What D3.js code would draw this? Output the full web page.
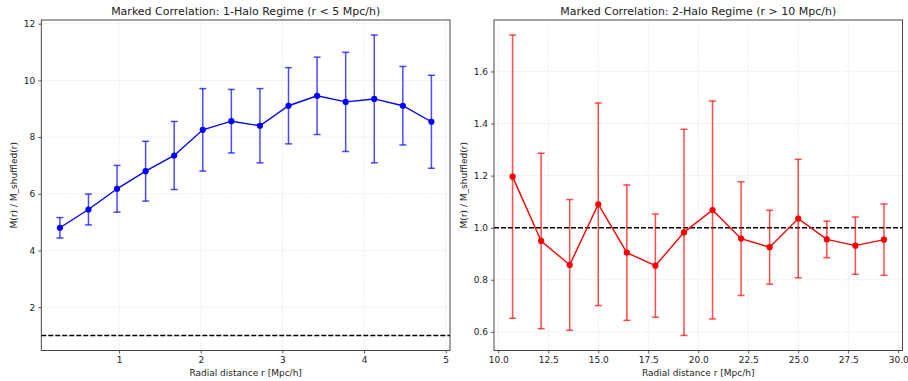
<!doctype html>
<html>
<head>
  <meta charset="utf-8">
  <title>Marked Correlation</title>
  <style>
  body { margin: 0; background: #fff; }
  svg { display: block; font-family: "DejaVu Sans", sans-serif; }
  .grid line { stroke: #d9d9d9; stroke-dasharray: 1,1.5; stroke-width: 0.8; }
  .tick text { fill: #222; }
  </style>
</head>
<body>
  <div id="vis"></div>

  <script src="https://d3js.org/d3.v7.min.js"></script>
  <script>
  var width = 908;
  var height = 381;

  // 1-halo regime (r < 5 Mpc/h)
  var r1 = [0.275, 0.625, 0.975, 1.325, 1.675, 2.025, 2.375, 2.725, 3.075, 3.425, 3.775, 4.125, 4.475, 4.825];
  var m1 = [4.80, 5.445, 6.175, 6.795, 7.35, 8.255, 8.56, 8.40, 9.105, 9.455, 9.24, 9.345, 9.105, 8.54];
  var e1 = [0.36, 0.545, 0.825, 1.055, 1.20, 1.455, 1.12, 1.31, 1.345, 1.365, 1.75, 2.255, 1.385, 1.64];
  var xt1 = [1, 2, 3, 4, 5];
  var yt1 = [2, 4, 6, 8, 10, 12];

  // 2-halo regime (r > 10 Mpc/h)
  var r2 = [10.714, 12.143, 13.571, 15.0, 16.429, 17.857, 19.286, 20.714, 22.143, 23.571, 25.0, 26.429, 27.857, 29.286];
  var m2 = [1.196, 0.949, 0.857, 1.090, 0.904, 0.854, 0.982, 1.068, 0.958, 0.925, 1.035, 0.955, 0.931, 0.954];
  var e2 = [0.544, 0.337, 0.251, 0.389, 0.26, 0.198, 0.396, 0.4185, 0.2185, 0.142, 0.2275, 0.07, 0.11, 0.137];
  var xt2 = [10, 12.5, 15, 17.5, 20, 22.5, 25, 27.5, 30];
  var yt2 = [0.6, 0.8, 1.0, 1.2, 1.4, 1.6];

  var refLine = 1.0;

  var svg = d3.select('#vis')
    .append('svg')
    .attr('width', width)
    .attr('height', height);

  function padded(lo, hi){
    var m = (hi - lo) * 0.05;
    return [lo - m, hi + m];
  }

  function drawPanel(opts){
    var x = d3.scaleLinear()
      .domain(padded(d3.min(opts.r), d3.max(opts.r)))
      .range([opts.left, opts.right]);
    var lo = d3.min(opts.m, function(d, i){ return d - opts.e[i]; });
    var hi = d3.max(opts.m, function(d, i){ return d + opts.e[i]; });
    var y = d3.scaleLinear()
      .domain(padded(Math.min(lo, refLine), Math.max(hi, refLine)))
      .range([opts.bottom, opts.top]);

    var g = svg.append('g');

    // grid
    var grid = g.append('g').attr('class', 'grid');
    grid.selectAll('.gx').data(opts.xticks).enter().append('line')
      .attr('x1', function(d){ return x(d); }).attr('x2', function(d){ return x(d); })
      .attr('y1', opts.top).attr('y2', opts.bottom);
    grid.selectAll('.gy').data(opts.yticks).enter().append('line')
      .attr('x1', opts.left).attr('x2', opts.right)
      .attr('y1', function(d){ return y(d); }).attr('y2', function(d){ return y(d); });

    // reference line
    g.append('line')
      .attr('x1', opts.left).attr('x2', opts.right)
      .attr('y1', y(refLine)).attr('y2', y(refLine))
      .attr('stroke', '#000')
      .attr('stroke-width', 1.4)
      .attr('stroke-dasharray', '5,2');

    // error bars
    var data = opts.r.map(function(d, i){ return { r: d, m: opts.m[i], e: opts.e[i] }; });
    var eb = g.append('g')
      .attr('stroke', opts.color)
      .attr('stroke-opacity', 0.7)
      .attr('stroke-width', 1.5);
    eb.selectAll('.bar').data(data).enter().append('line')
      .attr('x1', function(d){ return x(d.r); }).attr('x2', function(d){ return x(d.r); })
      .attr('y1', function(d){ return y(d.m - d.e); }).attr('y2', function(d){ return y(d.m + d.e); });
    [-1, 1].forEach(function(s){
      eb.selectAll('.cap' + s).data(data).enter().append('line')
        .attr('x1', function(d){ return x(d.r) - 3.5; }).attr('x2', function(d){ return x(d.r) + 3.5; })
        .attr('y1', function(d){ return y(d.m + s * d.e); }).attr('y2', function(d){ return y(d.m + s * d.e); });
    });

    // line + markers
    g.append('path').datum(data)
      .attr('fill', 'none')
      .attr('stroke', opts.color)
      .attr('stroke-width', 1.4)
      .attr('d', d3.line().x(function(d){ return x(d.r); }).y(function(d){ return y(d.m); }));
    g.selectAll('.dot').data(data).enter().append('circle')
      .attr('cx', function(d){ return x(d.r); })
      .attr('cy', function(d){ return y(d.m); })
      .attr('r', 3.1)
      .attr('fill', opts.color);

    // frame
    g.append('rect')
      .attr('x', opts.left).attr('y', opts.top)
      .attr('width', opts.right - opts.left).attr('height', opts.bottom - opts.top)
      .attr('fill', 'none').attr('stroke', '#333').attr('stroke-width', 0.9);

    // axes
    var xa = g.append('g')
      .attr('transform', 'translate(0,' + opts.bottom + ')')
      .call(d3.axisBottom(x).tickValues(opts.xticks).tickFormat(opts.xfmt).tickSize(3).tickPadding(3));
    var ya = g.append('g')
      .attr('transform', 'translate(' + opts.left + ',0)')
      .call(d3.axisLeft(y).tickValues(opts.yticks).tickFormat(opts.yfmt).tickSize(3).tickPadding(3));
    [xa, ya].forEach(function(a){
      a.select('.domain').remove();
      a.selectAll('.tick line').attr('stroke', '#333').attr('stroke-width', 0.8);
      a.selectAll('.tick text').attr('font-size', '9px').attr('font-family', '"DejaVu Sans", sans-serif');
    });

    // labels
    g.append('text')
      .attr('x', (opts.left + opts.right) / 2).attr('y', 15)
      .attr('text-anchor', 'middle')
      .attr('font-size', '11px').attr('fill', '#222')
      .text(opts.title);
    g.append('text')
      .attr('x', (opts.left + opts.right) / 2).attr('y', 376)
      .attr('text-anchor', 'middle')
      .attr('font-size', '9px').attr('fill', '#222')
      .text('Radial distance r [Mpc/h]');
    g.append('text')
      .attr('transform', 'translate(' + opts.ylabelX + ',' + ((opts.top + opts.bottom) / 2) + ') rotate(-90)')
      .attr('text-anchor', 'middle')
      .attr('font-size', '9px').attr('fill', '#222')
      .text('M(r) / M_shuffled(r)');
  }

  drawPanel({
    r: r1, m: m1, e: e1, color: '#0000ff',
    left: 41.3, right: 450, top: 20, bottom: 350.5,
    xticks: xt1, yticks: yt1,
    xfmt: d3.format('d'), yfmt: d3.format('d'),
    ylabelX: 17,
    title: 'Marked Correlation: 1-Halo Regime (r < 5 Mpc/h)'
  });

  drawPanel({
    r: r2, m: m2, e: e2, color: '#ff0000',
    left: 494, right: 902.5, top: 20, bottom: 350.5,
    xticks: xt2, yticks: yt2,
    xfmt: d3.format('.1f'), yfmt: d3.format('.1f'),
    ylabelX: 467,
    title: 'Marked Correlation: 2-Halo Regime (r > 10 Mpc/h)'
  });
  </script>
</body>
</html>
